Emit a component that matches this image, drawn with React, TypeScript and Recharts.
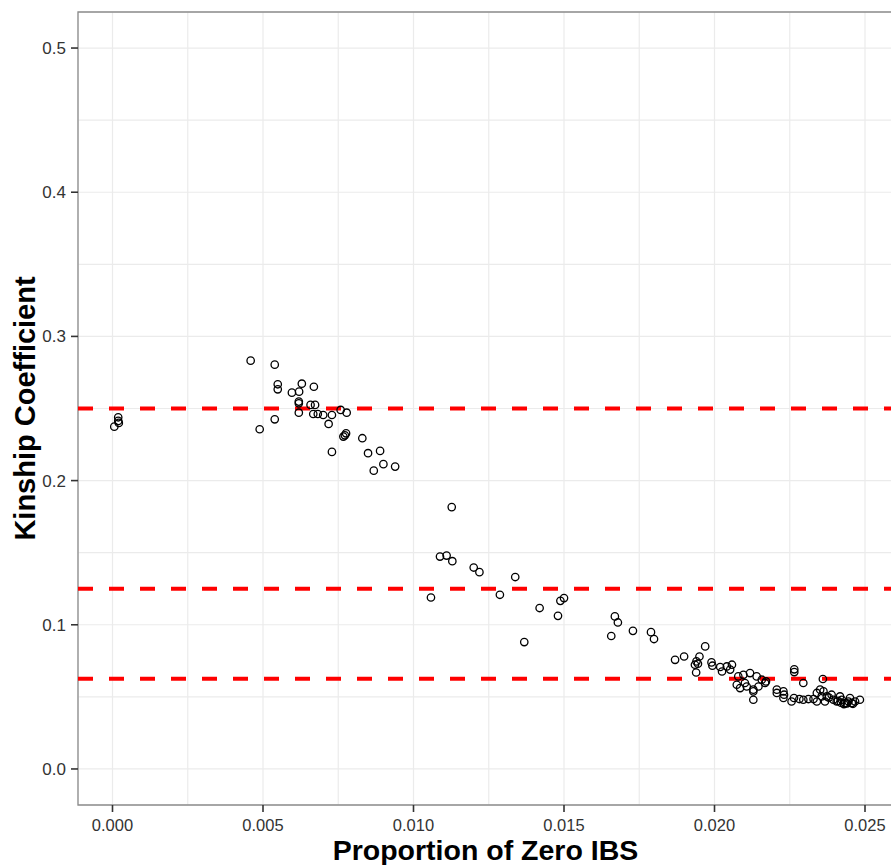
import {
  ScatterChart,
  Scatter,
  XAxis,
  YAxis,
  CartesianGrid,
  ReferenceLine,
  ReferenceArea,
} from 'recharts'

// proportion of zero IBS per pair
const zeroIbs = [
  0.00006, 0.00019, 0.00019, 0.00021,
  0.00459, 0.00539, 0.00549, 0.00549, 0.00489, 0.00539, 0.00596, 0.0062, 0.00629, 0.00669,
  0.00619, 0.00619, 0.00619, 0.00658, 0.00673, 0.00667, 0.00682, 0.007, 0.00729, 0.00758,
  0.00778, 0.00718, 0.00729, 0.00776, 0.00772, 0.00767, 0.0083, 0.00849, 0.00889, 0.009,
  0.00868, 0.00939,
  0.01127, 0.01088, 0.0111, 0.01129, 0.01058, 0.012, 0.01219, 0.01287, 0.01338, 0.01368,
  0.01419, 0.0148, 0.01488, 0.015, 0.01669, 0.01679, 0.01657, 0.01729, 0.01789, 0.01799,
  0.01869, 0.01899, 0.01969, 0.0195, 0.0194, 0.01935, 0.01945, 0.01939, 0.0199, 0.01993,
  0.02019, 0.02025, 0.02041, 0.02058, 0.02052,
  0.02079, 0.02096, 0.02118, 0.0214, 0.02157, 0.02168, 0.02074, 0.02085, 0.02107, 0.02129,
  0.02146, 0.02129, 0.02101, 0.02129, 0.02171,
  0.02265, 0.02265, 0.02295, 0.0236, 0.02207, 0.02207, 0.02229, 0.02231, 0.02229,
  0.02256, 0.02264, 0.02282, 0.02295, 0.02312, 0.02329,
  0.0234, 0.02351, 0.02362, 0.02356, 0.02373, 0.0234, 0.02367, 0.02389, 0.02395, 0.02406,
  0.02417, 0.02423, 0.02434, 0.02445, 0.0245, 0.02456, 0.02467, 0.02483,
  0.0243, 0.0244, 0.0242, 0.0246, 0.0241, 0.0238,
]

// kinship coefficient for the same pairs
const kinship = [
  0.2374, 0.2439, 0.2414, 0.24,
  0.2832, 0.2804, 0.2668, 0.2633, 0.2356, 0.2425, 0.261, 0.2617, 0.2672, 0.2651,
  0.2548, 0.2536, 0.2471, 0.2525, 0.2525, 0.2462, 0.2462, 0.2455, 0.2455, 0.249,
  0.2471, 0.2393, 0.2199, 0.2328, 0.2314, 0.2305, 0.2294, 0.219, 0.2206, 0.2114,
  0.2069, 0.2097,
  0.1816, 0.1473, 0.148, 0.1441, 0.1189, 0.1397, 0.1365, 0.1208, 0.1331, 0.088,
  0.1116, 0.1062, 0.1166, 0.1185, 0.1058, 0.1016, 0.0922, 0.0958, 0.0949, 0.0901,
  0.0757, 0.078, 0.085, 0.078, 0.0746, 0.0723, 0.073, 0.0669, 0.0739, 0.0716,
  0.0707, 0.0676, 0.0711, 0.0723, 0.0689,
  0.0642, 0.0653, 0.0665, 0.0642, 0.0619, 0.0596, 0.0584, 0.0561, 0.0572, 0.055,
  0.0572, 0.048, 0.0596, 0.0538, 0.0607,
  0.0691, 0.0672, 0.0596, 0.0624, 0.055, 0.0527, 0.0538, 0.0515, 0.0492,
  0.0468, 0.0492, 0.0485, 0.048, 0.0485, 0.0485,
  0.0527, 0.055, 0.0538, 0.0503, 0.0503, 0.0468, 0.0468, 0.0515, 0.048, 0.0468,
  0.0503, 0.048, 0.0457, 0.0468, 0.0492, 0.0457, 0.0468, 0.048,
  0.045, 0.0455, 0.046, 0.0452, 0.0472, 0.0495,
]

// relationship thresholds (1st, 2nd, 3rd degree)
const thresholds = [0.25, 0.125, 0.0625]

const xTicks = [0, 0.0025, 0.005, 0.0075, 0.01, 0.0125, 0.015, 0.0175, 0.02, 0.0225, 0.025]
const yTicks = [0, 0.05, 0.1, 0.15, 0.2, 0.25, 0.3, 0.35, 0.4, 0.45, 0.5]

const X_MIN = -0.001146
const X_MAX = 0.02593
const Y_MIN = -0.025
const Y_MAX = 0.525

const points = zeroIbs.map((x, i) => ({ x, y: kinship[i] }))

const isMajor = (v: number, step: number) => Math.abs(v / step - Math.round(v / step)) < 1e-6

const font = '"Liberation Sans", Arial, sans-serif'

function XTick({ x, y, payload }: any) {
  if (!isMajor(payload.value, 0.005)) return null
  return (
    <g>
      <line x1={x} x2={x} y1={y} y2={y + 7} stroke="#333" strokeWidth={1.6} />
      <text x={x} y={y + 26} textAnchor="middle" fontSize={16.5} fill="#333" fontFamily={font}>
        {payload.value.toFixed(3)}
      </text>
    </g>
  )
}

function YTick({ x, y, payload }: any) {
  if (!isMajor(payload.value, 0.1)) return null
  return (
    <g>
      <line x1={x - 7} x2={x} y1={y} y2={y} stroke="#333" strokeWidth={1.6} />
      <text x={x - 12} y={y + 6} textAnchor="end" fontSize={17} fill="#333" fontFamily={font}>
        {payload.value.toFixed(1)}
      </text>
    </g>
  )
}

const OpenCircle = (props: any) => (
  <circle cx={props.cx} cy={props.cy} r={3.7} fill="none" stroke="#000" strokeWidth={1.3} />
)

export default function App() {
  return (
    <div
      style={{
        position: 'fixed',
        left: 0,
        top: 0,
        width: 891,
        height: 865,
        overflow: 'hidden',
        background: '#fff',
      }}
    >
      <ScatterChart width={900} height={865} margin={{ top: 12, right: 7, bottom: 0, left: 0 }}>
        <CartesianGrid stroke="#ebebeb" strokeWidth={1.2} />
        <XAxis
          type="number"
          dataKey="x"
          domain={[X_MIN, X_MAX]}
          allowDataOverflow
          ticks={xTicks}
          interval={0}
          tickSize={0}
          tickMargin={0}
          axisLine={false}
          tickLine={false}
          height={60}
          tick={<XTick />}
          label={{
            value: 'Proportion of Zero IBS',
            position: 'insideBottom',
            offset: 5,
            fontSize: 28.5,
            fontWeight: 'bold',
            fill: '#000',
            fontFamily: font,
          }}
        />
        <YAxis
          type="number"
          dataKey="y"
          domain={[Y_MIN, Y_MAX]}
          allowDataOverflow
          ticks={yTicks}
          interval={0}
          tickSize={0}
          tickMargin={0}
          axisLine={false}
          tickLine={false}
          width={78}
          tick={<YTick />}
          label={{
            value: 'Kinship Coefficient',
            position: 'insideLeft',
            angle: -90,
            offset: 25,
            fontSize: 29,
            fontWeight: 'bold',
            fill: '#000',
            fontFamily: font,
            style: { textAnchor: 'middle' },
          }}
        />
        <Scatter data={points} shape={OpenCircle} isAnimationActive={false} />
        {thresholds.map((t) => (
          <ReferenceLine
            key={t}
            y={t}
            stroke="#ff0000"
            strokeWidth={4}
            strokeDasharray="15 16"
          />
        ))}
        <ReferenceArea
          x1={X_MIN}
          x2={X_MAX}
          y1={Y_MIN}
          y2={Y_MAX}
          fill="none"
          stroke="#8c8c8c"
          strokeWidth={1.3}
          ifOverflow="visible"
        />
      </ScatterChart>
    </div>
  )
}
